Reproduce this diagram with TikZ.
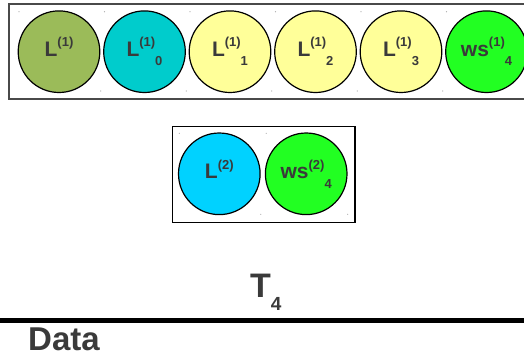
\documentclass[tikz,border=0pt]{standalone}
\usepackage{fontspec}
\setmainfont{Liberation Sans}
\definecolor{txt}{HTML}{3A3A3A}
\definecolor{olive}{HTML}{9BBB59}
\definecolor{teal1}{HTML}{00CCCC}
\definecolor{yel}{HTML}{FFFF99}
\definecolor{grn}{HTML}{22FF22}
\definecolor{sky}{HTML}{00D2FF}
\definecolor{boxgray}{HTML}{4A4A4A}
\newcommand\circlab[3]{#1\raisebox{9.5pt}{\fontsize{13}{13}\selectfont(#2)}\raisebox{-9.5pt}{\fontsize{13}{13}\selectfont #3}}
\begin{document}
\begin{tikzpicture}[x=1pt,y=-1pt,
  circ/.style={circle,draw=black,line width=1.2pt,minimum size=81.6pt,inner sep=0pt,
     text=txt,font=\fontsize{21}{21}\selectfont\bfseries},
  frame/.style={draw=boxgray,line width=1.5pt},
  dotmark/.style={fill=gray!70}]
\useasboundingbox (0,0) rectangle (524,354);
\begin{scope}
\clip (0,0) rectangle (524,354);
% top row frame
\draw[frame] (9,4) rectangle (532,99);
\foreach \cx/\nm/\col/\a/\b/\c in {59/c1/olive/L/1/,144.5/c2/teal1/L/1/0,230/c3/yel/L/1/1,315.5/c4/yel/L/1/2,401/c5/yel/L/1/3,486.5/c6/grn/ws/1/4}{
  \node[circ,fill=\col] (\nm) at (\cx,51.7) {\circlab{\a}{\b}{\c}};
  \fill[dotmark] (\cx-40,11.7) circle (0.6pt);
  \fill[dotmark] (\cx+41.7,91) circle (0.6pt);
}
\end{scope}
% second row frame
\draw[draw=black,line width=1.3pt] (172.7,126.7) rectangle (355,222.3);
\node[circ,fill=sky] (d1) at (219.3,173.8) {\circlab{L}{2}{}};
\node[circ,fill=grn] (d2) at (306.2,173.8) {\circlab{ws}{2}{4}};
\foreach \cx in {219.3,306.2}{
  \fill[dotmark] (\cx-40,133.3) circle (0.6pt);
  \fill[dotmark] (\cx+41.5,214.3) circle (0.6pt);
}
% T4
\node[anchor=base west,inner sep=0pt,text=txt,font=\fontsize{34}{34}\selectfont\bfseries] (t4) at (250,297)
  {T\raisebox{-13pt}{\fontsize{19}{19}\selectfont 4}};
% baseline rule
\draw[line width=5pt,black] (0,320) -- (524,320);
% Data
\node[anchor=base west,inner sep=0pt,text=txt,font=\fontsize{33}{33}\selectfont\bfseries] (data) at (28,350.3) {Data};
\end{tikzpicture}
\end{document}
